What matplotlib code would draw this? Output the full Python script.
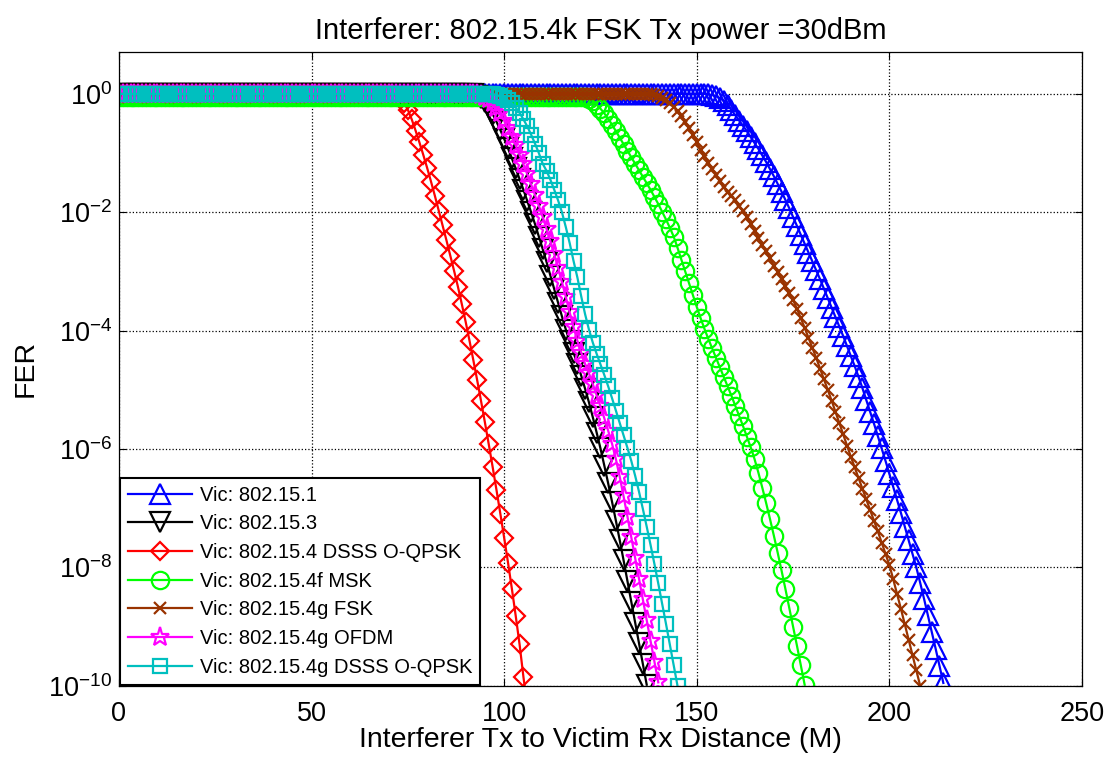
import matplotlib
matplotlib.use("Agg")
import matplotlib.pyplot as plt
import numpy as np

plt.rcParams.update({
    "font.family": ["Liberation Sans", "DejaVu Sans"],
    "font.size": 20,
    "mathtext.fontset": "custom",
    "mathtext.rm": "Liberation Sans",
    "mathtext.it": "Liberation Sans:italic",
    "mathtext.bf": "Liberation Sans:bold",
})

blue_exp = [0.0] * 153 + [
    -0.01, -0.02, -0.04, -0.07, -0.12, -0.19, -0.27, -0.36, -0.45, -0.54,
    -0.63, -0.73, -0.83, -0.93, -1.04, -1.15, -1.27, -1.39, -1.52, -1.65,
    -1.79, -1.93, -2.08, -2.23, -2.38, -2.53, -2.68, -2.83, -2.98, -3.13,
    -3.29, -3.45, -3.61, -3.77, -3.93, -4.09, -4.26, -4.43, -4.60, -4.78,
    -4.97, -5.17, -5.37, -5.57, -5.78, -5.99, -6.20, -6.42, -6.64, -6.86,
    -7.08, -7.31, -7.54, -7.77, -8.00, -8.26, -8.53, -8.81, -9.09, -9.37,
    -9.66, -9.95]
black_exp = [0.0] * 93 + [
    -0.03, -0.07, -0.14, -0.23, -0.34, -0.47, -0.61, -0.76, -0.92, -1.09,
    -1.26, -1.44, -1.62, -1.81, -2.00, -2.20, -2.41, -2.62, -2.84, -3.07,
    -3.30, -3.53, -3.76, -3.98, -4.18, -4.37, -4.56, -4.76, -4.98, -5.21,
    -5.46, -5.72, -5.99, -6.28, -6.58, -6.89, -7.21, -7.54, -7.88, -8.23,
    -8.58, -8.93, -9.28, -9.63, -9.98]
red_exp = [0.0] * 71 + [
    -0.01, -0.03, -0.07, -0.15, -0.27, -0.43, -0.62, -0.82, -1.03, -1.25,
    -1.48, -1.72, -1.97, -2.22, -2.47, -2.73, -2.99, -3.26, -3.55, -3.85,
    -4.17, -4.50, -4.84, -5.19, -5.55, -5.92, -6.30, -6.69, -7.09, -7.50,
    -7.92, -8.36, -8.82, -9.30, -9.85, -10.35]
green_exp = [-0.05] * 121 + [
    -0.06, -0.08, -0.12, -0.18, -0.25, -0.33, -0.42, -0.52, -0.63, -0.74,
    -0.85, -0.96, -1.07, -1.18, -1.29, -1.40, -1.51, -1.62, -1.74, -1.86,
    -1.99, -2.12, -2.26, -2.41, -2.60, -2.80, -3.00, -3.20, -3.40, -3.60,
    -3.79, -3.97, -4.14, -4.30, -4.46, -4.62, -4.78, -4.94, -5.10, -5.27,
    -5.44, -5.61, -5.79, -5.97, -6.17, -6.40, -6.65, -6.91, -7.18, -7.46,
    -7.75, -8.05, -8.36, -8.68, -9.00, -9.32, -9.65, -9.98]
brown_exp = [0.0] * 138 + [
    -0.01, -0.02, -0.04, -0.07, -0.11, -0.16, -0.22, -0.29, -0.37, -0.47,
    -0.58, -0.70, -0.82, -0.94, -1.05, -1.16, -1.27, -1.37, -1.47, -1.57,
    -1.65, -1.72, -1.80, -1.89, -1.98, -2.08, -2.20, -2.31, -2.43, -2.55,
    -2.66, -2.78, -2.90, -3.01, -3.13, -3.25, -3.37, -3.48, -3.63, -3.79,
    -3.95, -4.12, -4.29, -4.46, -4.64, -4.82, -5.00, -5.18, -5.37, -5.56,
    -5.75, -5.94, -6.13, -6.31, -6.49, -6.67, -6.85, -7.03, -7.21, -7.39,
    -7.58, -7.77, -7.96, -8.20, -8.45, -8.70, -8.96, -9.22, -9.48, -9.74,
    -10.00]
magenta_exp = [0.0] * 94 + [
    -0.02, -0.05, -0.09, -0.15, -0.23, -0.33, -0.45, -0.58, -0.72, -0.87,
    -1.03, -1.19, -1.36, -1.53, -1.71, -1.89, -2.08, -2.28, -2.49, -2.71,
    -2.94, -3.18, -3.43, -3.69, -3.94, -4.17, -4.37, -4.56, -4.72, -4.90,
    -5.09, -5.28, -5.48, -5.69, -5.91, -6.17, -6.47, -6.80, -7.14, -7.49,
    -7.84, -8.19, -8.54, -8.89, -9.24, -9.59, -9.94]
cyan_exp = [0.0] * 97 + [
    -0.01, -0.02, -0.04, -0.07, -0.11, -0.16, -0.23, -0.32, -0.43, -0.55,
    -0.69, -0.84, -1.00, -1.18, -1.30, -1.45, -1.62, -1.80, -2.00, -2.25,
    -2.52, -2.82, -3.10, -3.42, -3.72, -3.98, -4.20, -4.39, -4.57, -4.75,
    -4.94, -5.14, -5.35, -5.56, -5.77, -5.98, -6.20, -6.45, -6.72, -7.01,
    -7.31, -7.62, -7.94, -8.27, -8.61, -8.95, -9.30, -9.65, -10.00]

series_exp = [blue_exp, black_exp, red_exp, green_exp, brown_exp, magenta_exp, cyan_exp]
labels = ["Vic: 802.15.1", "Vic: 802.15.3", "Vic: 802.15.4 DSSS O-QPSK",
          "Vic: 802.15.4f MSK", "Vic: 802.15.4g FSK", "Vic: 802.15.4g OFDM",
          "Vic: 802.15.4g DSSS O-QPSK"]
colors = ["#0000FF", "#000000", "#FF0000", "#00FF00", "#993300", "#FF00FF", "#00BFBF"]
markers = ["^", "v", "D", "o", "x", "*", "s"]
msizes = [14, 14, 9, 12.5, 9, 14, 10]

fig = plt.figure(figsize=(11.15, 7.61), dpi=100)
ax = fig.add_axes([0.1067, 0.0987, 0.8637, 0.8330])

for exp, lab, col, mk, ms in zip(series_exp, labels, colors, markers, msizes):
    d = np.arange(len(exp))
    ax.semilogy(d, 10.0 ** np.array(exp), color=col, marker=mk, ms=ms,
                mfc="none", mec=col, mew=1.6, lw=1.6, label=lab)

ax.set_xlim(0, 250)
ax.set_ylim(1e-10, 10 ** 0.708)
ax.set_yticks([1e-10, 1e-8, 1e-6, 1e-4, 1e-2, 1e0])
ax.yaxis.set_minor_locator(matplotlib.ticker.NullLocator())
ax.set_xticks([0, 50, 100, 150, 200, 250])
ax.tick_params(direction="in", length=5, width=0.8, labelsize=19.5, pad=5)
ax.tick_params(axis="x", pad=11)
ax.tick_params(top=True, right=True)
ax.grid(True, color="k", linestyle=":", linewidth=0.9)
for s in ax.spines.values():
    s.set_linewidth(0.9)

ax.set_title("Interferer: 802.15.4k FSK Tx power =30dBm", fontsize=21, pad=9)
ax.set_xlabel("Interferer Tx to Victim Rx Distance (M)", fontsize=20.5, labelpad=0)
ax.set_ylabel("FER", fontsize=20.5, labelpad=7)

leg = ax.legend(loc="lower left", bbox_to_anchor=(0, 0), borderaxespad=0.05,
                fontsize=14.5, numpoints=1, handlelength=3.2, handletextpad=0.35,
                labelspacing=0.48, fancybox=False, framealpha=1,
                edgecolor="k", borderpad=0.4)
leg.get_frame().set_linewidth(1.5)

fig.savefig("out.png", dpi=100)
